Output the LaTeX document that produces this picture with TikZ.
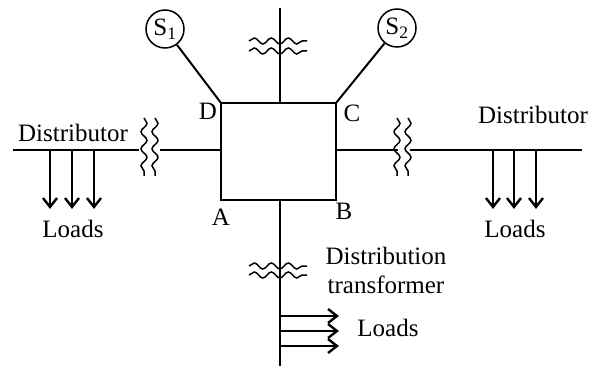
\documentclass[tikz,border=0pt]{standalone}
\usepackage{fontspec}
\setmainfont{Liberation Serif}
\usetikzlibrary{arrows.meta,decorations.pathmorphing}
\tikzset{
    feeder/.style={line width=2pt},
    wavy/.style={line width=1.5pt, decorate, decoration={snake, segment length=17pt, amplitude=3pt}},
    source/.style={draw, circle, line width=1.5pt, minimum size=38pt, inner sep=0pt},
    load/.style={line width=2.2pt},
    lightload/.style={line width=1.6pt},
    barb/.style={line width=2.4pt, line join=miter, line cap=butt},
    lbl/.style={inner sep=0pt, font=\fontsize{25}{29}\selectfont, align=center}
}
\begin{document}
\begin{tikzpicture}[x=1pt,y=-1pt]
    \useasboundingbox (0,0) rectangle (589,366);

    % Ring corners
    \coordinate (A) at (221,200);
    \coordinate (B) at (336,200);
    \coordinate (C) at (336,103);
    \coordinate (D) at (221,103);
    \draw[feeder] (A) -- (B) -- (C) -- (D) -- cycle;

    % Sources
    \node[source, lbl] (S1) at (165,29) {S\textsubscript{1}};
    \node[source, lbl] (S2) at (397,28) {S\textsubscript{2}};
    \draw[feeder] (S1) -- (D);
    \draw[feeder] (S2) -- (C);

    % Feeder ends
    \coordinate (topEnd) at (280,8);
    \coordinate (topTee) at (280,103);
    \coordinate (botTee) at (280,200);
    \coordinate (botEnd) at (280,366);
    \coordinate (leftEnd) at (13,150);
    \coordinate (leftBreak) at (139,150);
    \coordinate (leftGap) at (160,150);
    \coordinate (leftTee) at (221,150);
    \coordinate (rightTee) at (336,150);
    \coordinate (rightBreak) at (398,150);
    \coordinate (rightGap) at (410,150);
    \coordinate (rightEnd) at (582,150);
    \draw[feeder] (topEnd) -- (topTee);
    \draw[feeder] (botTee) -- (botEnd);
    \draw[feeder] (leftEnd) -- (leftBreak);
    \draw[feeder] (leftGap) -- (leftTee);
    \draw[feeder] (rightTee) -- (rightBreak);
    \draw[feeder] (rightGap) -- (rightEnd);

    % Break marks
    \foreach \x in {144,155,397,408}
        \draw[wavy] (\x,118) -- (\x,176);
    \foreach \y in {41,51,266,275}
        \draw[wavy] (249,\y) -- (307,\y);

    % Loads
    \foreach \x in {50,72,94} {
        \draw[load] (\x,150) -- (\x,207);
        \draw[barb] (\x-7,198) -- (\x,207) -- (\x+7,198);
    }
    \foreach \x in {493,514,536} {
        \draw[lightload] (\x,150) -- (\x,207);
        \draw[barb] (\x-7,198) -- (\x,207) -- (\x+7,198);
    }
    \foreach \y in {316,331,346} {
        \draw[lightload] (280,\y) -- (337,\y);
        \draw[barb] (328,\y-7) -- (337,\y) -- (328,\y+7);
    }

    % Labels
    \node[lbl] (distL) at (73,133) {Distributor};
    \node[lbl] (distR) at (533,115) {Distributor};
    \node[lbl] (loadL) at (73,229) {Loads};
    \node[lbl] (loadR) at (515,229) {Loads};
    \node[lbl] (loadB) at (388,328) {Loads};
    \node[lbl] (trans) at (386,270) {Distribution\\transformer};
    \node[lbl] (labA) at (221,217) {A};
    \node[lbl] (labB) at (344,211) {B};
    \node[lbl] (labC) at (352,113) {C};
    \node[lbl] (labD) at (208,111) {D};
\end{tikzpicture}
\end{document}
